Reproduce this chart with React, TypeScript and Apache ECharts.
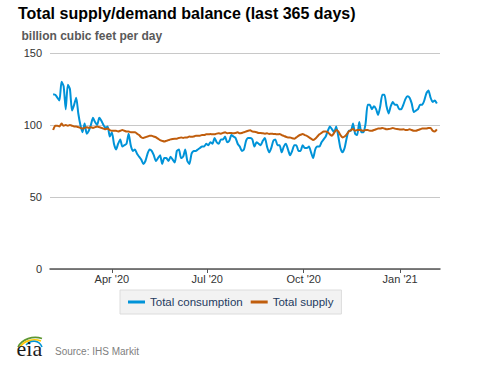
import React, { useEffect, useRef } from "react";
import * as echarts from "echarts";

// Axis spans Feb 2, 2020 .. Feb 8, 2021 (daily categories)
const AXIS_START = Date.UTC(2020, 1, 2);
const AXIS_DAYS = 373;
const DATA_FIRST_DAY = 3; // Feb 5, 2020
const DATA_STEP = 2; // one reading every 2 days

const MONTHS = ["Jan", "Feb", "Mar", "Apr", "May", "Jun", "Jul", "Aug", "Sep", "Oct", "Nov", "Dec"];
const TICK_MONTHS = ["01", "04", "07", "10"];

// billion cubic feet per day, read every 2 days
const consumption = [
  121.4, 121, 119, 117, 130, 127, 111, 128, 125, 110,
  114, 119, 108, 100, 95, 101, 94, 96, 100, 105,
  102, 100, 105, 103, 100, 98, 99, 92, 95, 87,
  83, 87, 90, 85, 86, 87, 94, 86, 82, 83,
  80, 78, 76, 73, 75, 80, 83, 82, 79, 75,
  77, 79, 73, 77, 77, 75, 78, 76, 74, 82,
  83, 77, 78, 83, 75, 73, 80, 82, 82, 83,
  84, 85, 85, 87, 86, 88, 87, 91, 88, 87,
  90, 90, 92, 88, 89, 93, 92, 91, 87, 85,
  82, 83, 89, 91, 91, 90, 85, 88, 87, 86,
  89, 91, 85, 81, 84, 89, 90, 86, 86, 81,
  85, 87, 83, 79, 82, 86, 86, 82, 82, 86,
  84, 84, 85, 81, 77, 83, 85, 85, 88, 90,
  92, 96, 99, 97, 95, 99, 92, 84, 81, 84,
  91, 96, 96, 101, 94, 93, 102, 95, 95, 101,
  114, 114, 111, 113, 111, 107, 113, 121, 121, 113,
  108, 113, 116, 114, 114, 111, 111, 114, 118, 120,
  119, 115, 109, 110, 111, 114, 114, 117, 122, 124,
  119, 116, 117, 115,
];

const supply = [
  96.5, 99.5, 99.5, 99, 101, 99.5, 100, 99.5, 100, 99.5,
  99, 99, 98.5, 98, 97.5, 98, 98.5, 98, 98.5, 98,
  98.5, 99, 98.5, 98, 97.5, 97, 97.5, 96.5, 96, 96,
  96, 95.5, 96, 96.5, 96, 95.5, 95.5, 95, 95, 95,
  94, 93, 91.5, 91, 91.5, 92, 92.5, 92.5, 92, 91.5,
  90.5, 89.5, 89, 88.5, 89, 89.5, 90, 90.3, 90.5, 90.5,
  91, 91.4, 91, 91.4, 91.4, 92, 91.8, 92, 92.5, 92.5,
  92.6, 93, 93, 93.5, 93.5, 93.7, 93.5, 93.5, 94, 94.2,
  94, 94.5, 95, 94.2, 94.5, 94.5, 94.2, 94.5, 94.9, 94.2,
  94.5, 95, 95.5, 96, 96.3, 95.5, 95.3, 95, 94.5, 94.5,
  94.2, 94, 94.2, 93.8, 94, 93.8, 93.7, 93.5, 93.7, 93,
  92.5, 91.8, 91.4, 91.4, 90.8, 90.5, 91.4, 92.5, 93.2, 93.7,
  93, 92.5, 91.5, 90.5, 89.6, 90.5, 92, 93.5, 94.5, 95.5,
  95.5, 95, 93.5, 92.6, 94.5, 96.5, 95.5, 93, 91.4, 92,
  93.5, 95.5, 96.5, 97.2, 96, 96.5, 96.5, 96.3, 96, 96.5,
  96.5, 96, 96, 96.5, 97, 97.5, 97.5, 98, 97.5, 97,
  97.2, 97.5, 98, 97.5, 97.2, 97, 96.8, 97, 96.5, 96.5,
  97, 96.5, 96, 96, 96.5, 97, 97.5, 97.5, 97.5, 98,
  98, 96, 95.5, 97,
];

const yTicks = { min: 0, max: 150, interval: 50 };
const seriesNames = ["Total consumption", "Total supply"];

function buildCategories(): string[] {
  const out: string[] = [];
  for (let i = 0; i < AXIS_DAYS; i++) {
    const d = new Date(AXIS_START + i * 86400000);
    const m = String(d.getUTCMonth() + 1).padStart(2, "0");
    const dd = String(d.getUTCDate()).padStart(2, "0");
    out.push(`${d.getUTCFullYear()}-${m}-${dd}`);
  }
  return out;
}

function toDaily(vals: number[]): (number | null)[] {
  const arr: (number | null)[] = new Array(AXIS_DAYS).fill(null);
  vals.forEach((v, i) => {
    const day = DATA_FIRST_DAY + i * DATA_STEP;
    if (day < AXIS_DAYS) arr[day] = v;
  });
  return arr;
}

const isQuarterStart = (_i: number, val: string) =>
  val.slice(8, 10) === "01" && TICK_MONTHS.includes(val.slice(5, 7));

const FONT = "Liberation Sans, Arial, sans-serif";

export default function App() {
  const ref = useRef<HTMLDivElement>(null);
  useEffect(() => {
    if (!ref.current) return;
    const chart = echarts.init(ref.current, undefined, { renderer: "svg" });
    const categories = buildCategories();
    chart.setOption({
      animation: false,
      backgroundColor: "#ffffff",
      textStyle: { fontFamily: FONT },
      grid: { left: 50, right: 37, top: 53, bottom: 98, containLabel: false },
      graphic: [
        {
          type: "text",
          x: 18,
          y: 13.5,
          style: {
            text: "Total supply/demand balance (last 365 days)",
            font: `bold 16px ${FONT}`,
            fill: "#000000",
            verticalAlign: "middle",
          },
        },
        {
          type: "text",
          x: 21.5,
          y: 35.5,
          style: {
            text: "billion cubic feet per day",
            font: `bold 12px ${FONT}`,
            fill: "#595959",
            verticalAlign: "middle",
          },
        },
        {
          type: "text",
          x: 55,
          y: 351.5,
          style: {
            text: "Source: IHS Markit",
            font: `10px ${FONT}`,
            fill: "#808080",
            verticalAlign: "middle",
          },
        },
        {
          type: "bezierCurve",
          shape: { x1: 18, y1: 347, cpx1: 22, cpy1: 339, cpx2: 33, cpy2: 335.5, x2: 42, y2: 338.5 },
          style: { stroke: "#5d9732", lineWidth: 1.6, fill: "none" },
        },
        {
          type: "bezierCurve",
          shape: { x1: 20, y1: 347, cpx1: 24, cpy1: 341, cpx2: 33, cpy2: 338, x2: 41, y2: 341 },
          style: { stroke: "#ffc702", lineWidth: 1.6, fill: "none" },
        },
        {
          type: "bezierCurve",
          shape: { x1: 26, y1: 345, cpx1: 31, cpy1: 339.5, cpx2: 39, cpy2: 340, x2: 42, y2: 347 },
          style: { stroke: "#0096d7", lineWidth: 1.6, fill: "none" },
        },
        {
          type: "text",
          x: 16.5,
          y: 348.5,
          style: {
            text: "eia",
            font: `22px Liberation Serif, DejaVu Serif, serif`,
            fill: "#1a1a1a",
            verticalAlign: "middle",
          },
        },
      ],
      legend: {
        data: seriesNames,
        left: 120,
        top: 290,
        orient: "horizontal",
        icon: "rect",
        itemWidth: 17,
        itemHeight: 3,
        itemGap: 8,
        padding: [6, 8, 6, 8],
        backgroundColor: "#f2f2f2",
        borderColor: "#dcdcdc",
        borderWidth: 1,
        borderRadius: 0,
        textStyle: { fontSize: 11.5, color: "#1e3a5f", fontFamily: FONT },
      },
      xAxis: {
        type: "category",
        data: categories,
        boundaryGap: false,
        axisLine: { show: true, lineStyle: { color: "#555555", width: 1.5 } },
        axisTick: {
          show: true,
          interval: isQuarterStart,
          length: 4,
          lineStyle: { color: "#555555", width: 1 },
        },
        axisLabel: {
          interval: isQuarterStart,
          margin: 4,
          fontSize: 11,
          color: "#333333",
          fontFamily: FONT,
          formatter: (val: string) => {
            const m = parseInt(val.slice(5, 7), 10) - 1;
            return `${MONTHS[m]} '${val.slice(2, 4)}`;
          },
        },
        splitLine: { show: false },
      },
      yAxis: {
        type: "value",
        min: yTicks.min,
        max: yTicks.max,
        interval: yTicks.interval,
        axisLine: { show: false },
        axisTick: { show: false },
        axisLabel: { fontSize: 11, color: "#333333", margin: 8, fontFamily: FONT },
        splitLine: { lineStyle: { color: "#c8c8c8", width: 1 } },
      },
      series: [
        {
          name: seriesNames[0],
          type: "line",
          data: toDaily(consumption),
          connectNulls: true,
          showSymbol: false,
          smooth: 0.2,
          color: "#0093d8",
          lineStyle: { color: "#0093d8", width: 2 },
          z: 2,
        },
        {
          name: seriesNames[1],
          type: "line",
          data: toDaily(supply),
          connectNulls: true,
          showSymbol: false,
          smooth: 0.2,
          color: "#c05d0c",
          lineStyle: { color: "#c05d0c", width: 2 },
          z: 3,
        },
      ],
    });
    return () => chart.dispose();
  }, []);
  return (
    <div
      ref={ref}
      style={{ position: "fixed", left: 0, top: 0, width: 477, height: 367, background: "#fff" }}
    />
  );
}
